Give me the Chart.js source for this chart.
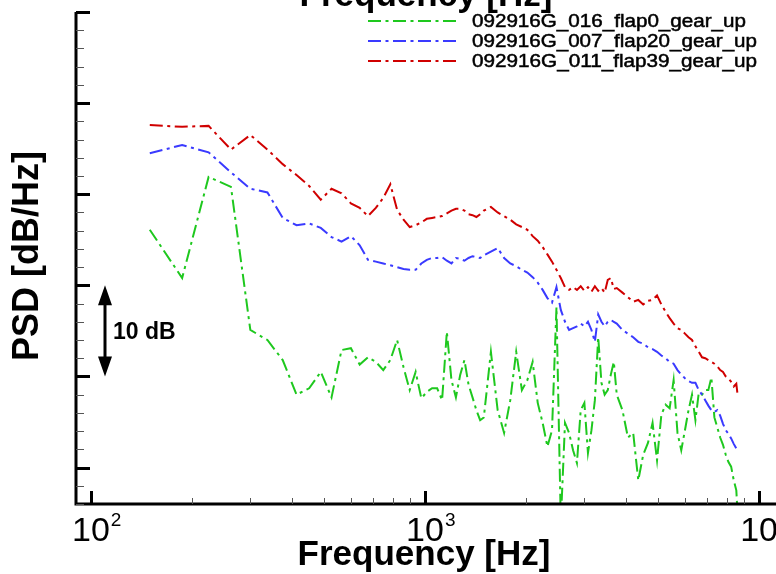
<!DOCTYPE html>
<html>
<head>
<meta charset="utf-8">
<script src="https://cdn.jsdelivr.net/npm/chart.js@4.4.1/dist/chart.umd.min.js"></script>
<style>
  html, body { margin: 0; padding: 0; background: #fff; }
  #wrap { width: 776px; height: 574px; }
</style>
</head>
<body>
<div id="wrap"><canvas id="psdChart" width="776" height="574"></canvas></div>
<script>
// frequency bins [Hz] (37.5 Hz grid, thinned out at high frequency)
const freqHz = [
  150, 187.5, 225, 262.5, 300, 337.5, 375, 412.5, 450, 487.5,
  525, 562.5, 600, 637.5, 675, 712.5, 750, 787.5, 825, 862.5,
  900, 937.5, 975, 1012.5, 1050, 1087.5, 1125, 1162.5, 1200, 1237.5,
  1275, 1312.5, 1350, 1387.5, 1425, 1462.5, 1500,
  1575, 1650, 1725, 1800, 1875, 1950, 2025, 2100, 2175, 2250,
  2325, 2400, 2475, 2550, 2625, 2700, 2775, 2850, 2925, 3000,
  3075, 3150, 3225, 3300, 3375, 3450, 3525, 3600, 3675, 3750,
  3900, 4050, 4200, 4350, 4500, 4650, 4800, 4950, 5100, 5250,
  5400, 5550, 5700, 5850, 6000, 6150, 6300, 6450, 6600, 6750,
  6900, 7050, 7200, 7350, 7500, 7650, 7800, 7950, 8100, 8250,
  8400, 8550, 8625
];

// PSD [dB/Hz]
const psdFlap0 = [
  76.1, 70.8, 81.9, 80.8, 65.1, 64.0, 61.8, 58.0, 58.7, 60.5,
  57.7, 62.9, 63.1, 61.3, 62.1, 61.6, 60.7, 61.8, 64.0, 61.0,
  58.5, 60.5, 57.6, 58.3, 58.7, 58.7, 57.4, 64.9, 59.6, 57.7,
  60.2, 61.8, 59.1, 57.7, 56.3, 55.2, 55.5,
  62.7, 56.3, 53.8, 57.4, 62.7, 58.5, 59.6, 61.6, 57.1, 54.9,
  52.3, 54.1, 67.6, 44.0, 54.9, 53.8, 51.9, 50.5, 56.3, 57.1,
  51.6, 54.1, 57.4, 64.3, 59.3, 58.0, 58.5, 60.2, 61.6, 58.0,
  56.3, 53.3, 53.8, 48.6, 51.4, 52.7, 54.9, 50.8, 55.8, 56.9,
  56.5, 59.6, 53.8, 51.9, 54.1, 56.3, 58.0, 55.2, 58.2, 58.0,
  58.5, 58.5, 59.9, 55.5, 54.4, 53.3, 52.5, 51.4, 50.6, 50.1,
  48.6, 47.5, 45.0
];
const psdFlap20 = [
  84.5, 85.4, 84.6, 82.4, 80.6, 80.2, 77.4, 76.6, 76.8, 76.3,
  75.3, 74.8, 75.4, 74.4, 72.8, 72.6, 72.4, 72.2, 72.0, 71.8,
  71.7, 71.7, 72.4, 72.8, 73.0, 73.0, 73.1, 72.7, 72.4, 73.0,
  72.9, 72.7, 73.0, 73.2, 73.1, 73.0, 73.3,
  73.7, 74.1, 73.0, 72.4, 72.1, 71.7, 71.4, 70.9, 70.3, 69.5,
  68.6, 68.1, 69.8, 67.3, 66.0, 65.1, 65.3, 65.5, 65.8, 65.5,
  66.0, 65.1, 63.8, 66.8, 66.0, 65.5, 66.0, 66.2, 66.0, 65.8,
  65.1, 64.7, 64.3, 63.8, 63.6, 63.2, 63.0, 62.7, 62.3, 62.0,
  61.6, 61.4, 60.7, 60.2, 59.8, 59.5, 59.3, 59.3, 58.5, 58.0,
  57.4, 56.8, 56.3, 56.1, 56.3, 55.7, 54.8, 54.1, 53.7, 53.2,
  52.6, 52.1, 51.7
];
const psdFlap39 = [
  87.6, 87.4, 87.5, 84.9, 86.5, 84.9, 83.3, 82.1, 80.9, 79.4,
  80.6, 80.1, 79.0, 78.5, 77.6, 78.5, 79.6, 81.1, 78.3, 77.2,
  76.4, 76.6, 76.9, 77.3, 77.4, 77.5, 77.6, 77.9, 78.2, 78.4,
  78.4, 78.2, 77.8, 77.7, 77.5, 77.8, 78.2,
  78.6, 78.0, 77.6, 77.2, 76.7, 76.4, 76.1, 75.4, 74.9, 74.2,
  73.4, 72.6, 71.7, 70.8, 69.8, 69.5, 69.8, 69.5, 69.9, 69.4,
  69.8, 69.3, 69.9, 69.4, 69.7, 69.2, 70.6, 70.8, 69.6, 69.7,
  69.2, 68.7, 68.2, 68.4, 67.9, 68.3, 68.4, 68.9, 67.9, 67.1,
  66.4, 65.8, 65.3, 65.1, 64.7, 64.3, 64.0, 63.3, 62.7, 62.1,
  62.0, 61.8, 61.6, 61.4, 61.1, 60.7, 60.5, 60.0, 59.8, 59.4,
  58.9, 59.2, 58.0
];

const seriesNames = ['092916G_016_flap0_gear_up', '092916G_007_flap20_gear_up', '092916G_011_flap39_gear_up'];
const seriesColors = ['#1ec81e', '#3a3aff', '#d00000'];

// axes
const xMin = 90.2, xMax = 11240;
const yMin = 46, yMax = 100;
const xDecades = [100, 1000, 10000];
const xExponents = ['2', '3', '4'];
const yStep = 2, yMajorEvery = 10;
const scaleBar = [60, 70]; // the "10 dB" arrow

const dashDot = [13, 4.5, 3, 4.5];

function toPoints(ys) {
  return freqHz.map((f, i) => ({ x: f, y: ys[i] }));
}

const decor = {
  id: 'decor',
  afterDraw(chart) {
    const { ctx, chartArea: a, scales: { x, y } } = chart;
    ctx.save();
    ctx.fillStyle = '#000';
    ctx.strokeStyle = '#000';

    // axis lines
    ctx.lineWidth = 3;
    ctx.beginPath();
    ctx.moveTo(a.left, a.top);
    ctx.lineTo(a.left, a.bottom);
    ctx.lineTo(a.right, a.bottom);
    ctx.stroke();

    // y ticks, pointing inwards
    for (let v = yMin; v <= yMax; v += yStep) {
      const py = Math.round(y.getPixelForValue(v)) + 0.5;
      const major = (v - 50) % yMajorEvery === 0;
      ctx.lineWidth = major ? 3 : 1;
      ctx.strokeStyle = major ? '#000' : '#555';
      ctx.beginPath();
      ctx.moveTo(a.left, py);
      ctx.lineTo(a.left + (major ? 14 : 8), py);
      ctx.stroke();
    }

    // x ticks
    xDecades.forEach((d, i) => {
      for (let m = 1; m <= 9; m++) {
        const v = d * m;
        if (v < xMin || v > xMax) continue;
        const px = Math.round(x.getPixelForValue(v)) + 0.5;
        const major = m === 1;
        ctx.lineWidth = major ? 3 : 1;
        ctx.strokeStyle = major ? '#000' : '#555';
        ctx.beginPath();
        ctx.moveTo(px, a.bottom);
        ctx.lineTo(px, a.bottom - (major ? 13 : 6));
        ctx.stroke();
      }
      // label 10^n
      const px = x.getPixelForValue(d);
      ctx.font = '34px "Liberation Sans", Arial, sans-serif';
      ctx.textAlign = 'center';
      ctx.textBaseline = 'alphabetic';
      ctx.fillText('10', px, 541);
      const w = ctx.measureText('10').width;
      ctx.font = '19px "Liberation Sans", Arial, sans-serif';
      ctx.textAlign = 'left';
      ctx.fillText(xExponents[i], px + w / 2 + 1, 526);
    });

    // axis titles
    ctx.font = 'bold 35px "Liberation Sans", Arial, sans-serif';
    ctx.textAlign = 'center';
    ctx.textBaseline = 'alphabetic';
    ctx.fillText('Frequency [Hz]', 424, 565);
    ctx.fillText('Frequency [Hz]', 426, 6);
    ctx.save();
    ctx.translate(38, 256);
    ctx.rotate(-Math.PI / 2);
    ctx.font = 'bold 36px "Liberation Sans", Arial, sans-serif';
    ctx.fillText('PSD [dB/Hz]', 0, 0);
    ctx.restore();

    // 10 dB arrow
    const ax = 105;
    const y0 = y.getPixelForValue(scaleBar[0]);
    const y1 = y.getPixelForValue(scaleBar[1]);
    ctx.lineWidth = 3;
    ctx.beginPath();
    ctx.moveTo(ax, y1 + 15);
    ctx.lineTo(ax, y0 - 15);
    ctx.stroke();
    ctx.beginPath();
    ctx.moveTo(ax, y1); ctx.lineTo(ax - 7, y1 + 20); ctx.lineTo(ax + 7, y1 + 20); ctx.closePath();
    ctx.moveTo(ax, y0); ctx.lineTo(ax - 7, y0 - 20); ctx.lineTo(ax + 7, y0 - 20); ctx.closePath();
    ctx.fill();
    ctx.font = 'bold 23px "Liberation Sans", Arial, sans-serif';
    ctx.textAlign = 'left';
    ctx.fillText('10 dB', 113, (y0 + y1) / 2 + 8);

    // legend
    ctx.font = '18px "Liberation Sans", Arial, sans-serif';
    ctx.textBaseline = 'middle';
    seriesNames.forEach((name, i) => {
      const ly = 21 + i * 20;
      ctx.strokeStyle = seriesColors[i];
      ctx.lineWidth = 2;
      ctx.setLineDash(dashDot);
      ctx.beginPath();
      ctx.moveTo(368, ly);
      ctx.lineTo(457, ly);
      ctx.stroke();
      ctx.setLineDash([]);
      const tw = ctx.measureText(name).width;
      const target = name.length === 25 ? 274 : 285;
      ctx.save();
      ctx.translate(472, ly + 1);
      ctx.scale(target / tw, 1);
      ctx.fillStyle = '#000';
      ctx.strokeStyle = '#000';
      ctx.lineWidth = 0.5;
      ctx.fillText(name, 0, 0);
      ctx.strokeText(name, 0, 0);
      ctx.restore();
    });
    ctx.restore();
  }
};

new Chart(document.getElementById('psdChart'), {
  type: 'line',
  data: {
    datasets: [
      { label: seriesNames[0], data: toPoints(psdFlap0), borderColor: seriesColors[0], order: 3 },
      { label: seriesNames[1], data: toPoints(psdFlap20), borderColor: seriesColors[1], order: 2 },
      { label: seriesNames[2], data: toPoints(psdFlap39), borderColor: seriesColors[2], order: 1 }
    ].map(d => Object.assign(d, { borderWidth: 2, borderDash: dashDot, pointRadius: 0, fill: false, tension: 0 }))
  },
  options: {
    responsive: false,
    animation: false,
    devicePixelRatio: 1,
    layout: { padding: { left: 76, top: 12, right: 0, bottom: 70 } },
    plugins: { legend: { display: false }, tooltip: { enabled: false } },
    scales: {
      x: { type: 'logarithmic', min: xMin, max: xMax, display: false },
      y: { type: 'linear', min: yMin, max: yMax, display: false }
    }
  },
  plugins: [decor]
});
</script>
</body>
</html>
